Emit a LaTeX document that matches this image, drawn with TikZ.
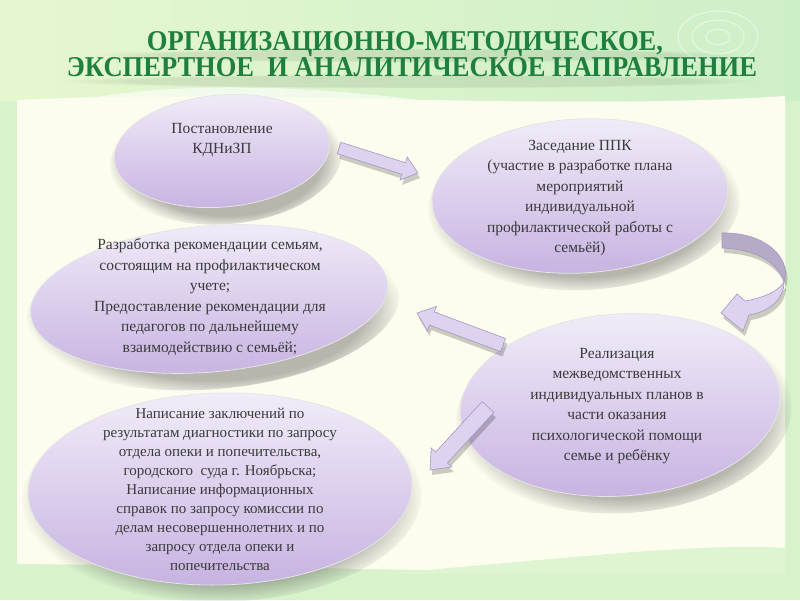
\documentclass[tikz,border=0pt]{standalone}
\usepackage{fontspec}
\setmainfont{Liberation Serif}
\usetikzlibrary{shapes.geometric,calc,shadows,fadings}
\definecolor{bggreen}{HTML}{D8F3CB}
\definecolor{bgtopl}{HTML}{E6F7CF}
\definecolor{bgtopr}{HTML}{CDEFC8}
\definecolor{cream}{HTML}{FDFDEF}
\definecolor{lavtop}{HTML}{F2EDF9}
\definecolor{lavbot}{HTML}{C6B2E1}
\definecolor{txt}{HTML}{3A3A3A}
\definecolor{ttl}{HTML}{1E7F3E}
\definecolor{arrfill}{HTML}{DDD2EF}
\definecolor{arrline}{HTML}{A596BF}
\definecolor{arrdark}{HTML}{B5ABC8}
\tikzset{
  ell/.style={ellipse, draw=white!80!gray, line width=0.8pt, top color=lavtop, bottom color=lavbot, inner sep=0pt},
  ellshadow/.style={ellipse, fill=black!70, path fading=circle with fuzzy edge 20 percent, inner sep=0pt, opacity=0.4},
  etext/.style={align=center, text=txt, font=\fontsize{15.5}{20.5}\selectfont, inner sep=0pt},
  barrow/.style={draw=arrline, line width=0.6pt, fill=arrfill, drop shadow={shadow xshift=2pt, shadow yshift=-5pt, opacity=0.2, fill=black}},
  ttltext/.style={text=ttl, anchor=base, inner sep=0pt},
}
\newcommand\blockarr[5]{%
  \path ($(#2)!#5!(#1)$) coordinate (hb);
  \path[barrow] ($(#1)!#3!90:(#2)$) -- ($(hb)!#3!-90:(#1)$) -- ($(hb)!#4!-90:(#1)$) -- (#2)
     -- ($(hb)!#4!90:(#1)$) -- ($(hb)!#3!90:(#1)$) -- ($(#1)!#3!-90:(#2)$) -- cycle;}
\begin{document}
\begin{tikzpicture}[x=1pt,y=-1pt]
\useasboundingbox (0,0) rectangle (800,600);
% background
\fill[bggreen] (0,0) rectangle (800,600);
\shade[left color=bgtopl, right color=bgtopr] (0,0) rectangle (800,100);
\fill[white, opacity=0.6] (90,98) .. controls (200,80) and (320,88) .. (420,100) -- cycle;
\fill[cream] (17,100) .. controls (250,88) and (550,112) .. (785,96) -- (785,572)
   .. controls (600,576) and (300,566) .. (17,564) -- cycle;
\fill[bggreen!80!cream] (380,574) .. controls (550,560) and (700,542) .. (785,548) -- (785,574) -- cycle;
\fill[bggreen] (0,575) rectangle (800,600);
\foreach \r in {12,26,40}{\draw[white, opacity=0.45, line width=1.2pt] (718,37) ellipse ({\r} and {0.65*\r});}
% title shadow band (soft, no text)
\fill[black, opacity=0.08, path fading=circle with fuzzy edge 20 percent] (90,48) rectangle (740,62);
\fill[black, opacity=0.08, path fading=circle with fuzzy edge 20 percent] (60,74) rectangle (760,88);
% title
\node[ttltext] (title1) at (405,50) {\resizebox{516pt}{19pt}{\bfseries ОРГАНИЗАЦИОННО-МЕТОДИЧЕСКОЕ,}};
\node[ttltext] (title2) at (412,76) {\resizebox{690pt}{19pt}{\bfseries ЭКСПЕРТНОЕ\ \ И АНАЛИТИЧЕСКОЕ НАПРАВЛЕНИЕ}};
% shadows of ellipses
\node[ellshadow, minimum width=232pt, minimum height=128pt, rotate=5] (s1) at (226,160) {};
\node[ellshadow, minimum width=312pt, minimum height=170pt, rotate=3] (s2) at (584,205) {};
\node[ellshadow, minimum width=374pt, minimum height=162pt, rotate=5] (s3) at (213,308) {};
\node[ellshadow, minimum width=336pt, minimum height=198pt, rotate=4] (s4) at (624,414) {};
\node[ellshadow, minimum width=400pt, minimum height=208pt, rotate=1.5] (s5) at (222,498) {};
% ellipses
\node[ell, minimum width=216pt, minimum height=112pt, rotate=5] (e1) at (222,151) {};
\node[ell, minimum width=296pt, minimum height=154pt, rotate=3] (e2) at (580,196) {};
\node[ell, minimum width=358pt, minimum height=146pt, rotate=5] (e3) at (209,299) {};
\node[ell, minimum width=320pt, minimum height=182pt, rotate=4] (e4) at (620,405) {};
\node[ell, minimum width=384pt, minimum height=192pt, rotate=1.5] (e5) at (220,489) {};
% texts
\node[etext] (t1) at (222,140) {Постановление\\КДНиЗП};
\node[etext] (t2) at (580,198) {Заседание ППК\\(участие в разработке плана\\мероприятий\\индивидуальной\\профилактической работы с\\семьёй)};
\node[etext] (t3) at (210,297) {Разработка рекомендации семьям,\\состоящим на профилактическом\\учете;\\Предоставление рекомендации для\\педагогов по дальнейшему\\взаимодействию с семьёй;};
\node[etext] (t4) at (617,406) {Реализация\\межведомственных\\индивидуальных планов в\\части оказания\\психологической помощи\\семье и ребёнку};
\node[etext, font=\fontsize{15}{19}\selectfont] (t5) at (220,489) {Написание заключений по\\результатам диагностики по запросу\\отдела опеки и попечительства,\\городского\ \ суда г. Ноябрьска;\\Написание информационных\\справок по запросу комиссии по\\делам несовершеннолетних и по\\запросу отдела опеки и\\попечительства};
% straight block arrows
\coordinate (a1s) at (339,148); \coordinate (a1e) at (418,173);
\coordinate (a3s) at (503,345); \coordinate (a3e) at (417,313);
\coordinate (a4s) at (488,407); \coordinate (a4e) at (430,470);
\blockarr{a1s}{a1e}{6pt}{12pt}{15pt}
\blockarr{a3s}{a3e}{7pt}{13pt}{16pt}
\blockarr{a4s}{a4e}{8pt}{14pt}{17pt}
% curved arrow
\path[fill=arrdark, draw=arrline, line width=0.6pt, drop shadow={shadow xshift=2pt, shadow yshift=-5pt, opacity=0.2, fill=black}]
  (722,233) .. controls (765,232) and (792,258) .. (784,282)
  .. controls (778,262) and (755,249) .. (722,248) -- cycle;
\path[fill=arrfill, draw=arrline, line width=0.6pt, drop shadow={shadow xshift=2pt, shadow yshift=-5pt, opacity=0.2, fill=black}]
  (784,282) .. controls (784,300) and (768,312) .. (749,315) -- (743,331) -- (721,313) -- (737,294) -- (745,301)
  .. controls (762,298) and (778,292) .. (784,282) -- cycle;
\end{tikzpicture}
\end{document}
